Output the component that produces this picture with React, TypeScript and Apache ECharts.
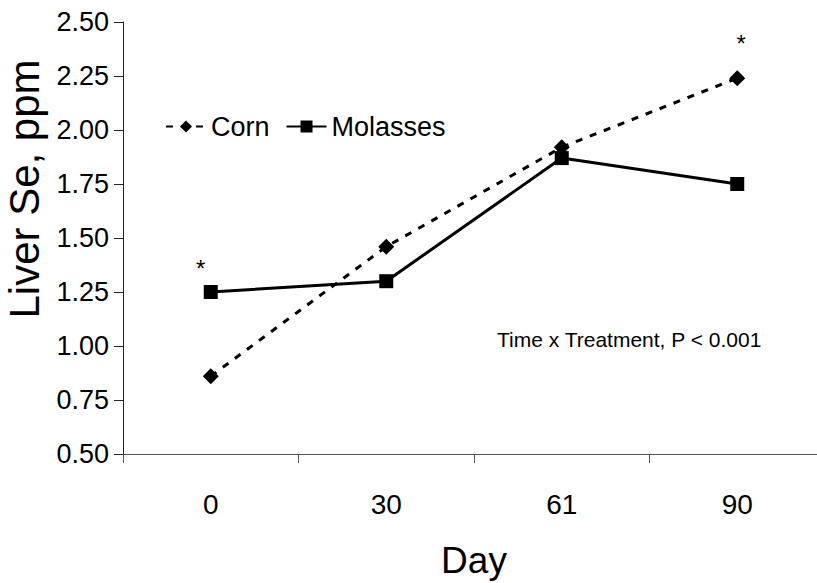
import React, { useEffect, useRef } from "react";
import * as echarts from "echarts";

const days = ["0", "30", "61", "90"];
const cornValues = [0.86, 1.46, 1.92, 2.24];
const molassesValues = [1.25, 1.3, 1.87, 1.75];
const cornSignificant = [false, false, false, true];
const molassesSignificant = [true, false, false, false];
const yTicks = { min: 0.5, max: 2.5, interval: 0.25 };
const annotation = "Time x Treatment, P < 0.001";
const yTitle = "Liver Se, ppm";
const xTitle = "Day";

const FONT = "'Liberation Sans', Arial, sans-serif";

function withStars(values: number[], flags: boolean[], offset: [number, number]) {
  return values.map((v, i) =>
    flags[i]
      ? {
          value: v,
          label: {
            show: true,
            formatter: "*",
            position: "top",
            offset,
            fontSize: 24,
            fontFamily: FONT,
            color: "#000",
          },
        }
      : v
  );
}

export default function App() {
  const ref = useRef<HTMLDivElement>(null);
  useEffect(() => {
    document.body.style.margin = "0";
    if (!ref.current) return;
    const chart = echarts.init(ref.current, null, { renderer: "svg" });
    chart.setOption({
      animation: false,
      backgroundColor: "#fff",
      textStyle: { fontFamily: FONT },
      grid: {
        left: 123,
        top: 22,
        height: 432,
        width: 702,
        containLabel: false,
        outerBoundsMode: "none",
      },
      legend: {
        left: 160,
        top: 108,
        itemWidth: 40,
        itemHeight: 15,
        itemGap: 16,
        textStyle: { fontSize: 27, color: "#000", fontFamily: FONT },
        data: ["Corn", "Molasses"],
      },
      xAxis: {
        type: "category",
        data: days,
        boundaryGap: true,
        name: xTitle,
        nameLocation: "middle",
        nameGap: 88,
        nameTextStyle: { fontSize: 37, color: "#000", fontFamily: FONT },
        axisLine: { show: true, lineStyle: { color: "#555", width: 1 } },
        axisTick: { show: true, alignWithLabel: false, length: 9, lineStyle: { color: "#555" } },
        axisLabel: { fontSize: 28, color: "#000", margin: 36, fontFamily: FONT },
        splitLine: { show: false },
      },
      yAxis: {
        type: "value",
        min: yTicks.min,
        max: yTicks.max,
        interval: yTicks.interval,
        axisLine: { show: true, lineStyle: { color: "#222", width: 1 } },
        axisTick: { show: true, length: 9, lineStyle: { color: "#222" } },
        axisLabel: {
          fontSize: 27,
          color: "#000",
          margin: 14,
          fontFamily: FONT,
          formatter: (v: number) => v.toFixed(2),
        },
        splitLine: { show: false },
      },
      series: [
        {
          name: "Corn",
          type: "line",
          data: withStars(cornValues, cornSignificant, [4, -10]),
          symbol: "diamond",
          symbolSize: 16,
          itemStyle: { color: "#000" },
          lineStyle: { color: "#000", width: 3, type: [7, 8] },
          z: 3,
        },
        {
          name: "Molasses",
          type: "line",
          data: withStars(molassesValues, molassesSignificant, [-10, 0]),
          symbol: "rect",
          symbolSize: 14,
          itemStyle: { color: "#000" },
          lineStyle: { color: "#000", width: 3, type: "solid" },
          z: 2,
        },
      ],
      graphic: [
        {
          type: "text",
          x: 497,
          y: 339,
          style: {
            text: annotation,
            fontSize: 21,
            fontFamily: FONT,
            fill: "#000",
            align: "left",
            verticalAlign: "middle",
          },
        },
        {
          type: "text",
          x: 24,
          y: 189,
          rotation: Math.PI / 2,
          style: {
            text: yTitle,
            fontSize: 42,
            fontFamily: FONT,
            fill: "#000",
            align: "center",
            verticalAlign: "middle",
          },
        },
      ],
    });
    return () => chart.dispose();
  }, []);
  return (
    <div style={{ width: 817, height: 583, overflow: "hidden" }}>
      <div ref={ref} style={{ width: 835, height: 583 }} />
    </div>
  );
}
